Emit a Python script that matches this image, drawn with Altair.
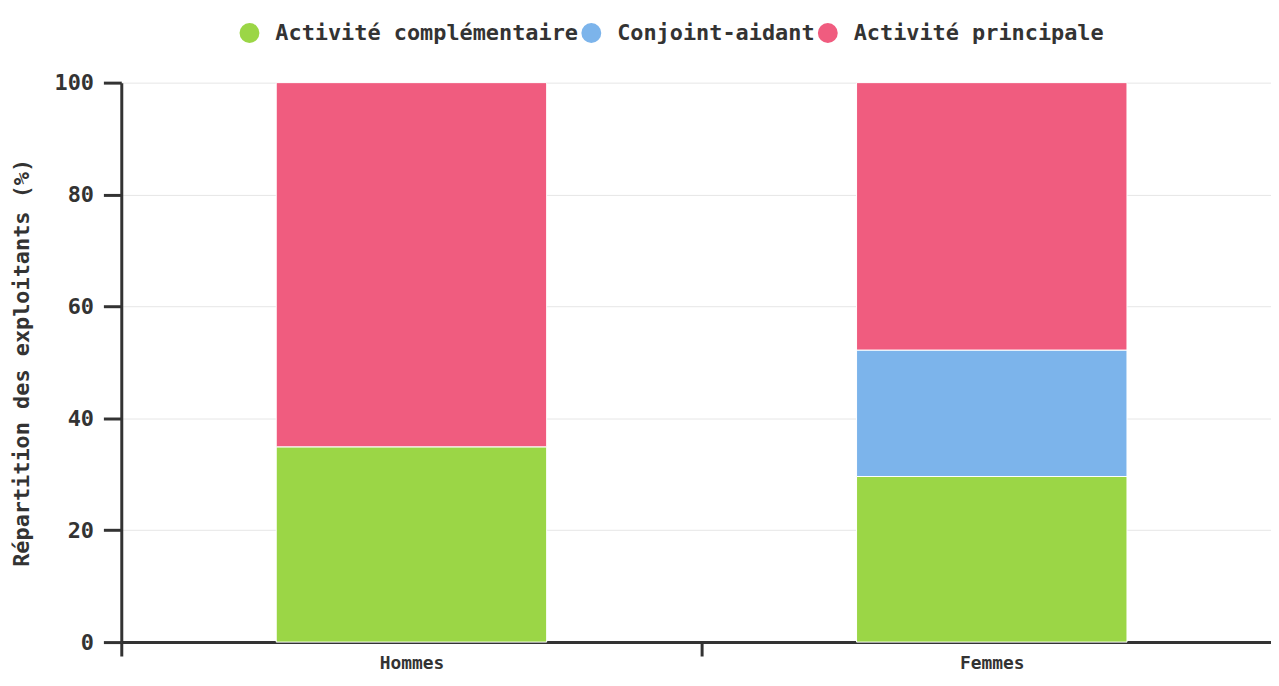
import altair as alt
import pandas as pd

genres = ["Hommes", "Femmes"]
categories = ["Activité complémentaire", "Conjoint-aidant", "Activité principale"]
colors = ["#9bd646", "#7cb4eb", "#f05c7f"]
activite_complementaire = [34.9, 29.6]
conjoint_aidant = [0.0, 22.6]
activite_principale = [65.1, 47.8]
y_ticks = [0, 20, 40, 60, 80, 100]

series = [activite_complementaire, conjoint_aidant, activite_principale]
rows = []
for i, g in enumerate(genres):
    for k, (cat, vals) in enumerate(zip(categories, series)):
        if vals[i] > 0:
            rows.append({"genre": g, "statut": cat, "valeur": vals[i], "ordre": k})
df = pd.DataFrame(rows)

FONT = "DejaVu Sans Mono"
DARK = "#333333"

chart = alt.Chart(df).mark_bar(
    stroke="white", strokeWidth=1, width=alt.RelativeBandSize(0.466)
).encode(
    x=alt.X(
        "genre:N",
        sort=genres,
        scale=alt.Scale(paddingInner=0, paddingOuter=0),
        axis=alt.Axis(
            title=None, labelAngle=0, tickBand="extent", grid=False,
            domainColor=DARK, domainWidth=3, tickColor=DARK, tickWidth=3, tickSize=14,
            labelFont=FONT, labelFontWeight="bold", labelFontSize=18, labelColor=DARK,
            labelPadding=-1,
        ),
    ),
    y=alt.Y(
        "valeur:Q",
        stack="zero",
        scale=alt.Scale(domain=[0, 100], nice=False),
        axis=alt.Axis(
            title="Répartition des exploitants (%)", values=y_ticks,
            domainColor=DARK, domainWidth=3, tickColor=DARK, tickWidth=3, tickSize=18,
            gridColor="#e6e6e6", gridWidth=1,
            labelFont=FONT, labelFontWeight="bold", labelFontSize=22, labelColor=DARK,
            labelPadding=10,
            titleFont=FONT, titleFontWeight="bold", titleFontSize=22, titleColor=DARK,
            titlePadding=21,
        ),
    ),
    color=alt.Color(
        "statut:N",
        scale=alt.Scale(domain=categories, range=colors),
        legend=alt.Legend(
            title=None, orient="none", legendX=118, legendY=-61, direction="horizontal",
            symbolType="circle", symbolSize=400, symbolStrokeWidth=0, symbolOpacity=1,
            labelFont=FONT, labelFontWeight="bold", labelFontSize=22, labelColor=DARK,
            labelOffset=15, columnPadding=2, labelLimit=500,
        ),
    ),
    order=alt.Order("ordre:Q"),
).properties(
    width=1168,
    height=563,
    autosize=alt.AutoSizeParams(type="none"),
    padding={"left": 114, "top": 73, "right": -11, "bottom": 30},
).configure_view(stroke=None)

chart.save("out.html", embed_options={"renderer": "svg", "actions": False})
